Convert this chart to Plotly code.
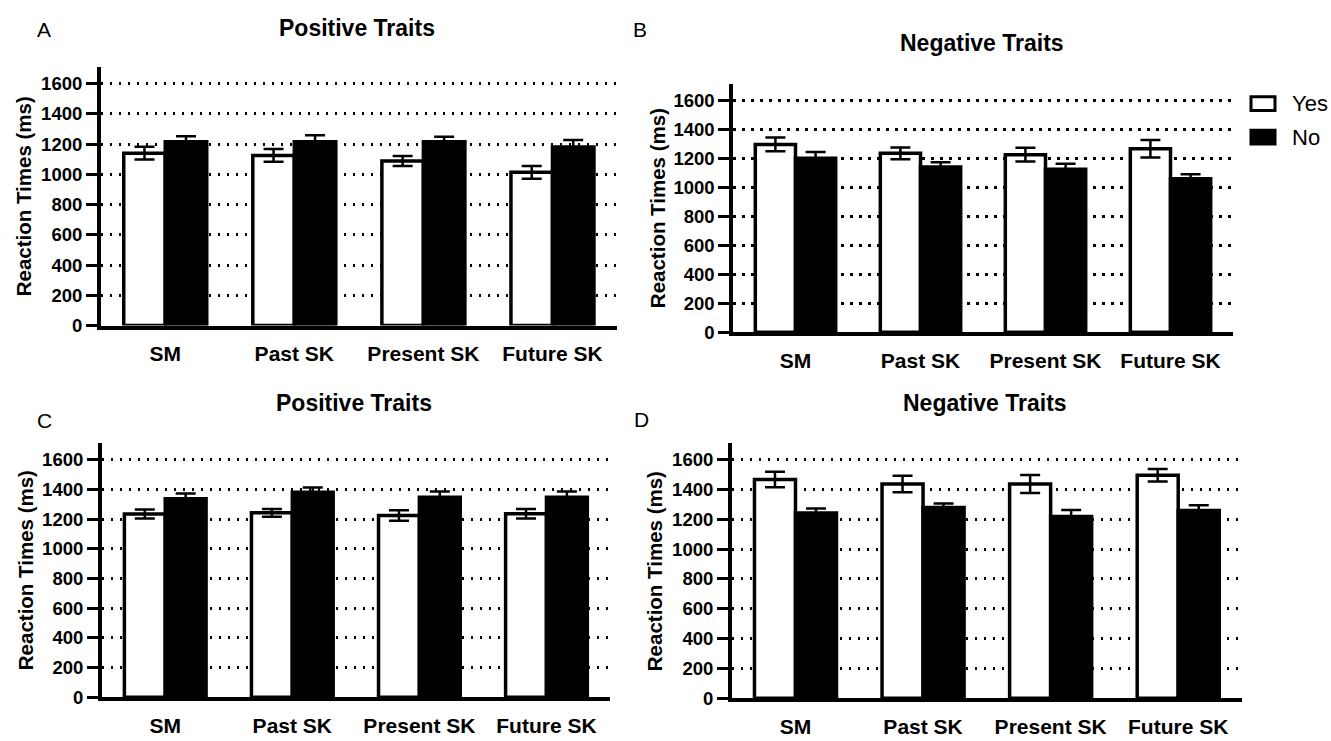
import plotly.graph_objects as go
from plotly.subplots import make_subplots

categories = ["SM", "Past SK", "Present SK", "Future SK"]
y_ticks = [0, 200, 400, 600, 800, 1000, 1200, 1400, 1600]

# Panel A - Positive Traits
a_yes = [1140, 1125, 1088, 1013]
a_yes_err = [42, 42, 33, 42]
a_no = [1215, 1216, 1215, 1181]
a_no_err = [36, 43, 33, 45]

# Panel B - Negative Traits
b_yes = [1296, 1234, 1225, 1266]
b_yes_err = [47, 40, 47, 60]
b_no = [1200, 1139, 1124, 1058]
b_no_err = [43, 34, 38, 31]

# Panel C - Positive Traits
c_yes = [1234, 1242, 1224, 1236]
c_yes_err = [30, 26, 36, 32]
c_no = [1337, 1381, 1347, 1347]
c_no_err = [36, 32, 38, 38]

# Panel D - Negative Traits
d_yes = [1468, 1437, 1437, 1495]
d_yes_err = [52, 55, 60, 42]
d_no = [1243, 1279, 1219, 1259]
d_no_err = [30, 28, 44, 35]

W, H = 1331, 741
FONT = "Liberation Sans, Arial, Helvetica, sans-serif"
YMAX = 1710

panels = [
    dict(row=1, col=1, yes=a_yes, yes_err=a_yes_err, no=a_no, no_err=a_no_err,
         xpx=(100.7, 617), y0=330, y1600=84.7, title="Positive Traits",
         tpos=(357, 28), letter="A", lpos=(44, 30), ytpos=(23, 199)),
    dict(row=1, col=2, yes=b_yes, yes_err=b_yes_err, no=b_no, no_err=b_no_err,
         xpx=(733, 1233), y0=336.7, y1600=101.7, title="Negative Traits",
         tpos=(982, 44), letter="B", lpos=(640, 30), ytpos=(657, 211)),
    dict(row=2, col=1, yes=c_yes, yes_err=c_yes_err, no=c_no, no_err=c_no_err,
         xpx=(101.7, 610), y0=706.7, y1600=466, title="Positive Traits",
         tpos=(354, 409), letter="C", lpos=(44, 426), ytpos=(25, 578)),
    dict(row=2, col=2, yes=d_yes, yes_err=d_yes_err, no=d_no, no_err=d_no_err,
         xpx=(731.7, 1242), y0=707.7, y1600=466, title="Negative Traits",
         tpos=(985, 409), letter="D", lpos=(641, 425), ytpos=(654, 579)),
]

fig = make_subplots(rows=2, cols=2)

annotations = []
for i, p in enumerate(panels):
    r, c = p["row"], p["col"]
    fig.add_trace(go.Bar(
        x=categories, y=p["yes"], name="Yes", showlegend=False,
        marker=dict(color="white", line=dict(color="black", width=3.5)),
        error_y=dict(type="data", array=p["yes_err"], color="black", thickness=2.5, width=10),
    ), row=r, col=c)
    fig.add_trace(go.Bar(
        x=categories, y=p["no"], name="No", showlegend=False,
        marker=dict(color="black", line=dict(color="black", width=3.5)),
        error_y=dict(type="data", array=p["no_err"], color="black", thickness=2.5, width=10),
    ), row=r, col=c)

    suffix = "" if i == 0 else str(i + 1)
    ppu = (p["y0"] - p["y1600"]) / 1600.0
    ytop_px = p["y0"] - ppu * YMAX
    xdom = [p["xpx"][0] / W, p["xpx"][1] / W]
    ydom = [(H - p["y0"]) / H, (H - ytop_px) / H]

    fig.layout["xaxis" + suffix].update(
        domain=xdom, showline=True, linecolor="black", linewidth=3.5,
        ticks="", showgrid=False, zeroline=False,
        tickfont=dict(family=FONT, size=21, color="black", weight="bold"),
        ticklabelstandoff=7,
    )
    fig.layout["yaxis" + suffix].update(
        domain=ydom, range=[0, YMAX], tickvals=y_ticks,
        showline=True, linecolor="black", linewidth=3.5,
        ticks="outside", ticklen=11, tickwidth=3, tickcolor="black",
        showgrid=True, gridcolor="black", gridwidth=2.5, griddash="2.5px,6.5px",
        zeroline=False,
        tickfont=dict(family=FONT, size=18.5, color="black", weight="bold"),
    )

    annotations.append(dict(
        text=p["title"], x=p["tpos"][0] / W, y=(H - p["tpos"][1]) / H,
        xref="paper", yref="paper", xanchor="center", yanchor="middle",
        showarrow=False, font=dict(family=FONT, size=23, color="black", weight="bold")))
    annotations.append(dict(
        text=p["letter"], x=p["lpos"][0] / W, y=(H - p["lpos"][1]) / H,
        xref="paper", yref="paper", xanchor="center", yanchor="middle",
        showarrow=False, font=dict(family=FONT, size=21, color="black")))
    annotations.append(dict(
        text="Reaction Times (ms)", x=p["ytpos"][0] / W, y=(H - p["ytpos"][1]) / H,
        xref="paper", yref="paper", xanchor="center", yanchor="middle", textangle=-90,
        showarrow=False, font=dict(family=FONT, size=20.5, color="black", weight="bold")))

# Legend (drawn in panel B area)
shapes = [
    dict(type="rect", xref="paper", yref="paper",
         x0=1251 / W, x1=1275 / W, y0=(H - 112) / H, y1=(H - 98) / H,
         fillcolor="white", line=dict(color="black", width=3)),
    dict(type="rect", xref="paper", yref="paper",
         x0=1251 / W, x1=1275 / W, y0=(H - 146) / H, y1=(H - 132) / H,
         fillcolor="black", line=dict(color="black", width=3)),
]
annotations.append(dict(text="Yes", x=1290 / W, y=(H - 105) / H, xref="paper", yref="paper",
                        xanchor="left", yanchor="middle", showarrow=False,
                        font=dict(family=FONT, size=22, color="black")))
annotations.append(dict(text="No", x=1290 / W, y=(H - 139) / H, xref="paper", yref="paper",
                        xanchor="left", yanchor="middle", showarrow=False,
                        font=dict(family=FONT, size=22, color="black")))

fig.update_layout(
    width=W, height=H, margin=dict(l=0, r=0, t=0, b=0),
    paper_bgcolor="white", plot_bgcolor="white",
    barmode="group", bargap=0.357, bargroupgap=0,
    showlegend=False, annotations=annotations, shapes=shapes,
    font=dict(family=FONT, color="black"),
)

fig.write_html("out.html")
